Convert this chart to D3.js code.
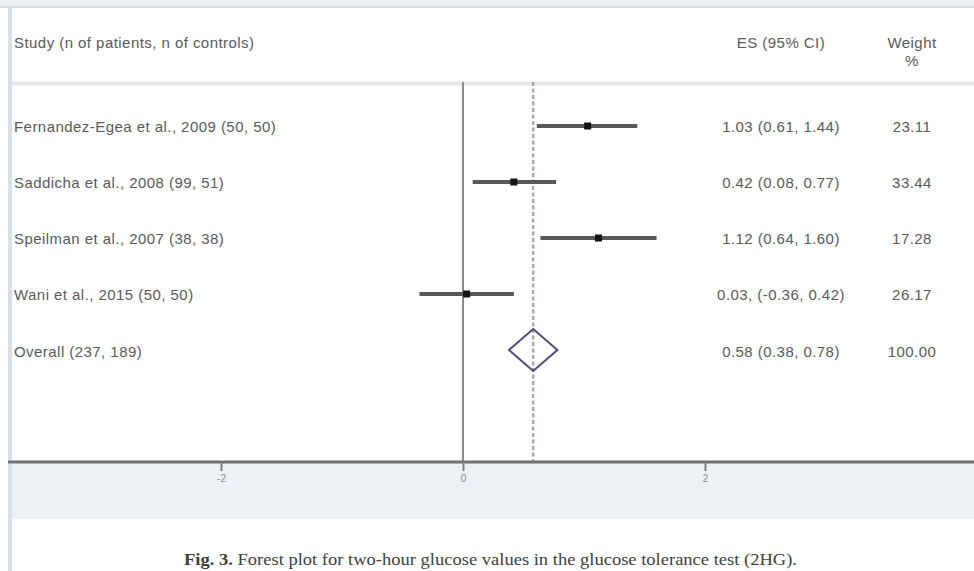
<!DOCTYPE html>
<html>
<head>
<meta charset="utf-8">
<script src="https://cdn.jsdelivr.net/npm/d3@7/dist/d3.min.js"></script>
<style>
  html, body { margin: 0; padding: 0; background: #ffffff; }
  svg { display: block; }
</style>
</head>
<body>
<svg id="chart" width="974" height="571"></svg>
<script>
// Studies in the meta-analysis of two-hour glucose (2HG)
const studies = [
  "Fernandez-Egea et al., 2009 (50, 50)",
  "Saddicha et al., 2008 (99, 51)",
  "Speilman et al., 2007 (38, 38)",
  "Wani et al., 2015 (50, 50)"
];
const effect = [1.03, 0.42, 1.12, 0.03];
const ciLow = [0.61, 0.08, 0.64, -0.36];
const ciHigh = [1.44, 0.77, 1.60, 0.42];
const weights = [23.11, 33.44, 17.28, 26.17];
const esSeparator = [" ", " ", " ", ", "];

// Pooled estimate
const overallLabel = "Overall (237, 189)";
const overallEffect = 0.58;
const overallLow = 0.38;
const overallHigh = 0.78;
const overallWeight = 100.00;

const axisTicks = [-2, 0, 2];

const headers = {
  study: "Study (n of patients, n of controls)",
  es: "ES (95% CI)",
  weight: ["Weight", "%"]
};
const caption = {
  bold: "Fig. 3.",
  text: " Forest plot for two-hour glucose values in the glucose tolerance test (2HG)."
};

const svg = d3.select("#chart");
const W = 974, H = 571;
const sans = "'Liberation Sans', Arial, sans-serif";
const textColor = "#5a5a5a";
const fontSize = 15;
const spacing = "0.45px";

// Plain hyphen for negative numbers, as in the printed table
const locale = d3.formatLocale({ decimal: ".", thousands: ",", grouping: [3], currency: ["", ""], minus: "-" });
const fmt = locale.format(".2f");
const tickFmt = locale.format("d");

// Frame: top strip and left strip of the page
svg.append("rect").attr("x", 0).attr("y", 0).attr("width", W).attr("height", 7).attr("fill", "#eef1f4");
svg.append("rect").attr("x", 0).attr("y", 6).attr("width", W).attr("height", 2).attr("fill", "#d6dde4");
svg.append("rect").attr("x", 8).attr("y", 7).attr("width", 4).attr("height", H - 7).attr("fill", "#d8e0e7");

// Scales
const x = d3.scaleLinear().domain([-2, 2]).range([221, 705]);
const rowKeys = d3.range(studies.length + 1);
const y = d3.scalePoint().domain(rowKeys).range([126, 350]);

const plotTop = 82, axisY = 462;
const esX = 781, weightX = 912, labelX = 14;

function label(sel) {
  return sel.attr("font-family", sans).attr("font-size", fontSize)
    .attr("letter-spacing", spacing).attr("fill", textColor);
}

// Header
label(svg.append("text").attr("x", labelX).attr("y", 48)).text(headers.study);
label(svg.append("text").attr("x", esX).attr("y", 48).attr("text-anchor", "middle")).text(headers.es);
headers.weight.forEach((t, i) => {
  label(svg.append("text").attr("x", weightX).attr("y", 48 + i * 18).attr("text-anchor", "middle")).text(t);
});

// Header separator
svg.append("line").attr("x1", 12).attr("x2", W).attr("y1", plotTop + 1.5).attr("y2", plotTop + 1.5)
  .attr("stroke", "#e6e6e6").attr("stroke-width", 4);

// Band below axis
svg.append("rect").attr("x", 12).attr("y", axisY).attr("width", W - 12).attr("height", 57)
  .attr("fill", "#ebf1f4");

// Null line at zero
svg.append("line").attr("x1", x(0)).attr("x2", x(0)).attr("y1", plotTop).attr("y2", axisY)
  .attr("stroke", "#8c8c8c").attr("stroke-width", 2);

// Pooled effect reference line
svg.append("line").attr("x1", x(overallEffect)).attr("x2", x(overallEffect))
  .attr("y1", plotTop).attr("y2", axisY)
  .attr("stroke", "#b798a6").attr("stroke-width", 2.2).attr("stroke-dasharray", "4,2.5");

// Confidence intervals and point estimates
const rows = svg.append("g").selectAll("g").data(studies).join("g");
rows.append("line")
  .attr("x1", (d, i) => x(ciLow[i])).attr("x2", (d, i) => x(ciHigh[i]))
  .attr("y1", (d, i) => y(i)).attr("y2", (d, i) => y(i))
  .attr("stroke", "#585858").attr("stroke-width", 3.8);
rows.append("rect")
  .attr("x", (d, i) => x(effect[i]) - 3.5).attr("y", (d, i) => y(i) - 3.5)
  .attr("width", 7).attr("height", 7).attr("fill", "#141414");

// Study labels, estimates and weights
label(rows.append("text").attr("x", labelX).attr("y", (d, i) => y(i) + 6)).text(d => d);
label(rows.append("text").attr("x", esX).attr("y", (d, i) => y(i) + 6).attr("text-anchor", "middle"))
  .text((d, i) => `${fmt(effect[i])}${esSeparator[i]}(${fmt(ciLow[i])}, ${fmt(ciHigh[i])})`);
label(rows.append("text").attr("x", weightX).attr("y", (d, i) => y(i) + 6).attr("text-anchor", "middle"))
  .text((d, i) => fmt(weights[i]));

// Overall diamond
const oy = y(studies.length);
const diamond = [
  [x(overallLow), oy], [x(overallEffect), oy - 21],
  [x(overallHigh), oy], [x(overallEffect), oy + 21]
];
svg.append("path").attr("d", d3.line()(diamond) + "Z")
  .attr("fill", "none").attr("stroke", "#4d4d7c").attr("stroke-width", 2);
label(svg.append("text").attr("x", labelX).attr("y", oy + 7)).text(overallLabel);
label(svg.append("text").attr("x", esX).attr("y", oy + 7).attr("text-anchor", "middle"))
  .text(`${fmt(overallEffect)} (${fmt(overallLow)}, ${fmt(overallHigh)})`);
label(svg.append("text").attr("x", weightX).attr("y", oy + 7).attr("text-anchor", "middle"))
  .text(fmt(overallWeight));

// Axis
svg.append("line").attr("x1", 8).attr("x2", W).attr("y1", axisY).attr("y2", axisY)
  .attr("stroke", "#727272").attr("stroke-width", 3);
const axis = d3.axisBottom(x).tickValues(axisTicks).tickSize(9).tickPadding(4).tickFormat(tickFmt);
const ax = svg.append("g").attr("transform", `translate(0,${axisY})`).call(axis);
ax.select(".domain").remove();
ax.selectAll(".tick line").attr("stroke", "#808080").attr("stroke-width", 2);
ax.selectAll(".tick text").attr("font-family", sans).attr("font-size", 10).attr("fill", "#8a8a8a");

// Figure caption
const cap = svg.append("text").attr("x", 184).attr("y", 565)
  .attr("font-family", "'Liberation Serif', 'Times New Roman', serif").attr("font-size", 16)
  .attr("textLength", 613).attr("lengthAdjust", "spacingAndGlyphs")
  .attr("fill", "#404040");
cap.append("tspan").attr("font-weight", "bold").text(caption.bold);
cap.append("tspan").text(caption.text);
</script>
</body>
</html>
